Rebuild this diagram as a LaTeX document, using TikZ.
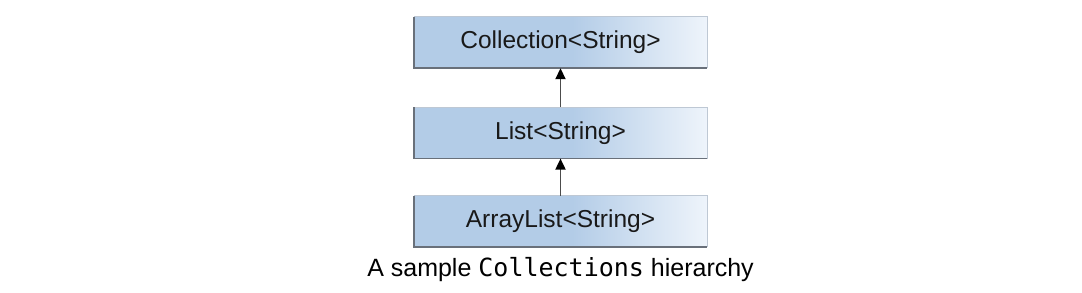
\documentclass[tikz,border=0pt]{standalone}
\usepackage{fontspec}
\setmainfont{Liberation Sans}
\setmonofont{DejaVu Sans Mono}
\usetikzlibrary{arrows.meta, positioning}

\definecolor{boxblue}{RGB}{179,204,231}
\definecolor{boxpale}{RGB}{238,244,251}
\definecolor{edgedark}{RGB}{105,112,122}
\definecolor{edgelight}{RGB}{190,200,212}
\pgfdeclarehorizontalshading{boxshade}{100bp}{color(0bp)=(boxblue); color(52bp)=(boxblue); color(75bp)=(boxpale); color(100bp)=(boxpale)}

\begin{document}
\begin{tikzpicture}[
  x=1pt, y=1pt,
  box/.style={rectangle, shading=boxshade, minimum width=293pt, minimum height=51pt, inner sep=0pt, align=center, font=\fontsize{24.5}{28}\selectfont, text=black!90},
  arr/.style={-{Triangle[length=11pt, width=10pt, color=black]}, draw=black!70, line width=1.8pt},
]
\useasboundingbox (0,0) rectangle (1082,292);

\node[box] (coll) at (560.5,249.5) {Collection<String>};
\node[box, below=39pt of coll] (list) {List<String>};
\node[box, below=37pt of list] (alist) {ArrayList<String>};
\node[font=\fontsize{25}{29}\selectfont, below=7pt of alist] (caption) {A sample \texttt{Collections} hierarchy};

% box edges
\foreach \b in {coll, list, alist} {
  \draw[edgelight, line width=1.2pt] (\b.north west) -- (\b.north east) -- (\b.south east);
  \draw[edgedark, line width=1.8pt] (\b.north west) -- (\b.south west) -- (\b.south east);
}

% Arrows
\draw[arr] (list) -- (coll);
\draw[arr] (alist) -- (list);
\end{tikzpicture}
\end{document}
